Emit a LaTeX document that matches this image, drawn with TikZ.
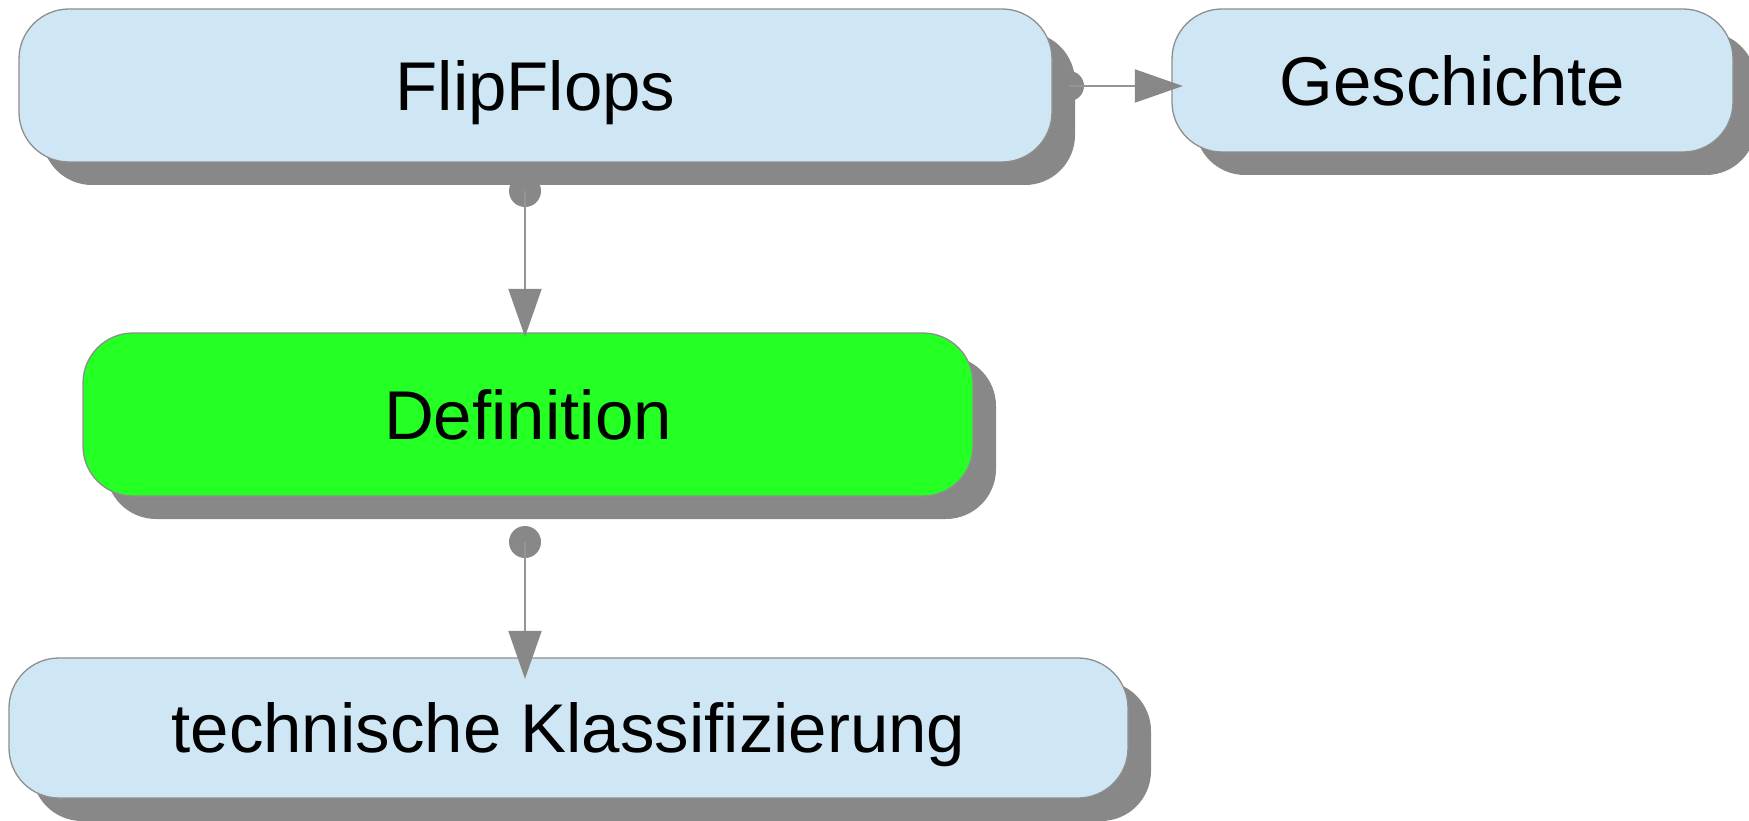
\documentclass[tikz,border=0pt]{standalone}
\usepackage{fontspec}
\setmainfont{Liberation Sans}
\usetikzlibrary{arrows.meta,shadows,calc}
\definecolor{boxblue}{HTML}{CFE7F5}
\definecolor{boxgreen}{HTML}{24FF24}
\definecolor{shadowgray}{HTML}{888888}
\definecolor{edgegray}{HTML}{8E8E8E}
\definecolor{linegray}{HTML}{959595}
\pgfdeclarelayer{bg}
\pgfdeclarelayer{fg}
\pgfsetlayers{bg,main,fg}

\begin{document}
\begin{tikzpicture}[x=1pt,y=-1pt,
  topic/.style={rectangle, rounded corners=50pt, draw=edgegray, line width=1.3pt,
    fill=boxblue, inner sep=0pt, font=\fontsize{69}{80}\selectfont,
    text height=49.4pt, text depth=0pt,
    drop shadow={shadow xshift=23pt, shadow yshift=-23pt, fill=shadowgray, opacity=1}},
  conn/.style={draw=linegray, line width=2pt,
    -{Triangle[width=33pt,length=48pt,color=shadowgray]}},
  knob/.style={fill=shadowgray, draw=none}]

\useasboundingbox (0,0) rectangle (1749,821);

% topics
\node[topic, minimum width=1033pt, minimum height=153pt] (ff) at (535.5,85.5) {FlipFlops};
\node[topic, minimum width=561pt, minimum height=143pt] (gs) at (1452.5,80.5) {Geschichte};
\node[topic, fill=boxgreen, minimum width=890pt, minimum height=163pt] (def) at (528,414.5) {Definition};
\node[topic, minimum width=1119pt, minimum height=140pt] (tk) at (568.5,728) {technische Klassifizierung};

% connector start points
\coordinate (k1) at (525,191);
\coordinate (k2) at (525,542);
\coordinate (k3) at (1069,86);

\begin{pgfonlayer}{bg}
  \fill[knob] (k1) circle (16pt);
  \fill[knob] (k2) circle (16pt);
  \fill[knob] (k3) circle (15pt);
\end{pgfonlayer}

\begin{pgfonlayer}{fg}
  \draw[conn, shorten >=-4.5pt] (k1) -- (k1 |- def.north);
  \draw[conn, shorten >=-21.5pt] (k2) -- (k2 |- tk.north);
  \draw[conn, shorten >=-11.5pt] (k3) -- (k3 -| gs.west);
\end{pgfonlayer}
\end{tikzpicture}
\end{document}
